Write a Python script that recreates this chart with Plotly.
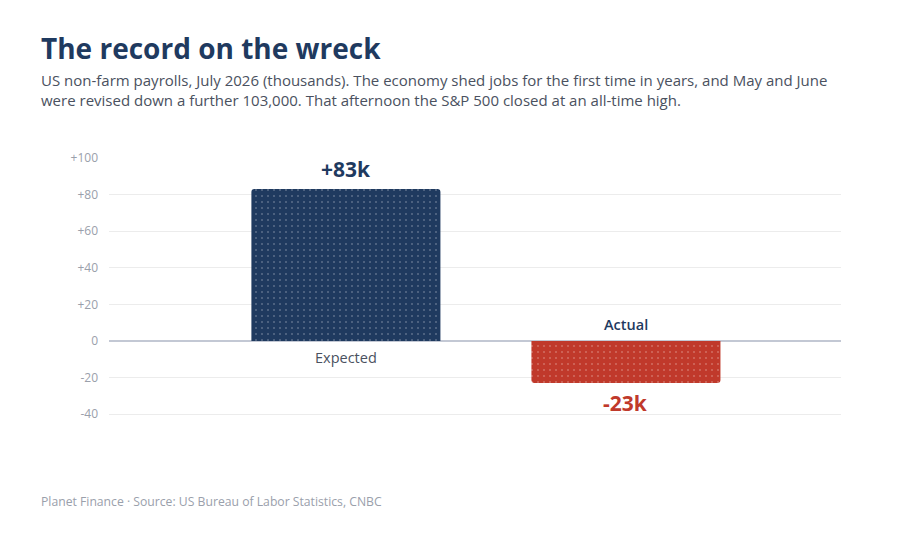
import plotly.graph_objects as go

# --- Data -------------------------------------------------------------------
categories = ["Expected", "Actual"]
values = [83, -23]
value_labels = ["+83k", "-23k"]
tick_vals = [-40, -20, 0, 20, 40, 60, 80, 100]
tick_text = ["-40", "-20", "0", "+20", "+40", "+60", "+80", "+100"]

NAVY = "#1f3a5f"
RED = "#c0392b"
FONT = "Open Sans"

# page is drawn with an 8px body offset, so layout numbers are shifted by 8
PLOT_TOP, PLOT_BOTTOM = 149, 408
PLOT_H = PLOT_BOTTOM - PLOT_TOP
PLOT_L, PLOT_R = 101, 833
PLOT_W = PLOT_R - PLOT_L
TEXT_X = (31 - PLOT_L) / PLOT_W

bar_colors = [NAVY if v >= 0 else RED for v in values]
xs = list(range(len(categories)))

fig = go.Figure()
fig.add_trace(go.Bar(
    x=xs, y=values, width=0.675,
    marker=dict(
        color=bar_colors, cornerradius=3, line=dict(width=0),
        pattern=dict(shape=".", fgcolor="rgba(255,255,255,0.07)", size=6,
                     solidity=0.05, fillmode="overlay"),
    ),
    hoverinfo="skip",
))

# value labels and category labels
for x, v, lab, c, cat in zip(xs, values, value_labels, bar_colors, categories):
    up = v >= 0
    fig.add_annotation(x=x, y=v, text=f"<b>{lab}</b>", showarrow=False,
                       yshift=20 if up else -20,
                       font=dict(family=FONT, size=21, color=c))
    fig.add_annotation(x=x, y=0, text=cat, showarrow=False,
                       yshift=-17 if up else 16,
                       font=dict(family=FONT, size=14.5,
                                 color="#4a5160" if up else NAVY,
                                 weight=500 if up else 600))

fig.update_layout(
    width=906, height=540,
    margin=dict(l=PLOT_L, r=906 - PLOT_R, t=PLOT_TOP, b=540 - PLOT_BOTTOM),
    paper_bgcolor="white", plot_bgcolor="white",
    showlegend=False,
    font=dict(family=FONT),
    title=dict(
        text="<b>The record on the wreck</b>",
        x=33 / 906, xanchor="left", y=1 - 41 / 540, yanchor="middle",
        font=dict(family=FONT, size=28, color=NAVY),
    ),
    xaxis=dict(range=[-0.846, 1.768], showticklabels=False, showgrid=False,
               zeroline=False, fixedrange=True),
    yaxis=dict(range=[-41, 100.5], tickvals=tick_vals, ticktext=tick_text,
               showgrid=True, gridcolor="#ececec", gridwidth=1,
               zeroline=True, zerolinecolor="#c3c8d4", zerolinewidth=1.5,
               tickfont=dict(family=FONT, size=12, color="#9aa0ab"),
               ticks="", ticklabelstandoff=10),
)

fig.add_annotation(
    xref="paper", yref="paper", x=TEXT_X, y=1 + (PLOT_TOP - 82) / PLOT_H,
    xanchor="left", yanchor="middle", align="left", showarrow=False,
    text=("US non-farm payrolls, July 2026 (thousands). The economy shed jobs for the first time in years, and May and June<br>"
          "were revised down a further 103,000. That afternoon the S&P 500 closed at an all-time high."),
    font=dict(family=FONT, size=15, color="#4a5160"),
)
fig.add_annotation(
    xref="paper", yref="paper", x=TEXT_X, y=-(493 - PLOT_BOTTOM) / PLOT_H,
    xanchor="left", yanchor="middle", align="left", showarrow=False,
    text="Planet Finance · Source: US Bureau of Labor Statistics, CNBC",
    font=dict(family=FONT, size=12.2, color="#9aa0ab"),
)

fig.write_html("out.html")
